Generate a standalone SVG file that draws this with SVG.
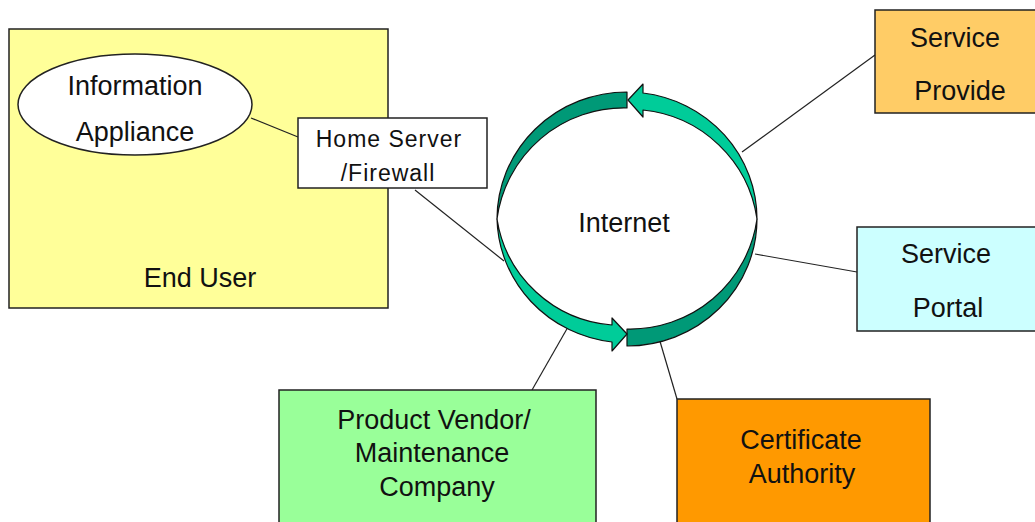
<svg xmlns="http://www.w3.org/2000/svg" width="1035" height="522" viewBox="0 0 1035 522">
<style>
.box{stroke:#222;stroke-width:1.5}
.t{font-family:"Liberation Sans",Arial,sans-serif;font-size:27px;fill:#111;text-anchor:middle}
.ts{font-family:"Liberation Sans",Arial,sans-serif;font-size:23px;fill:#111;text-anchor:middle;letter-spacing:1px}
.ln{stroke:#222;stroke-width:1.2;fill:none}
.lt{fill:#00CC99;stroke:#111;stroke-width:1.2;stroke-linejoin:round}
.dk{fill:#009977;stroke:#111;stroke-width:1.2;stroke-linejoin:round}
</style>
<rect width="1035" height="522" fill="#fff"/>
<g id="end-user">
<rect class="box" x="9" y="29" width="379" height="279" fill="#FFFF99"/>
<text class="t" x="200" y="287">End User</text>
</g>
<g id="connectors">
<line class="ln" x1="251" y1="118" x2="298" y2="137"/>
<line class="ln" x1="415" y1="190" x2="504" y2="261"/>
<line class="ln" x1="742" y1="152" x2="875" y2="55"/>
<line class="ln" x1="755" y1="254" x2="857" y2="272"/>
<line class="ln" x1="532" y1="390" x2="568" y2="327"/>
<line class="ln" x1="677" y1="399" x2="659" y2="338"/>
</g>
<g id="information-appliance">
<ellipse class="box" cx="135" cy="104.5" rx="117" ry="50.5" fill="#fff"/>
<text class="t" x="135" y="95">Information</text>
<text class="t" x="135" y="141">Appliance</text>
</g>
<g id="home-server">
<rect class="box" x="298" y="118" width="189" height="70" fill="#fff"/>
<text class="ts" x="389" y="147">Home Server</text>
<text class="ts" x="388" y="181">/Firewall</text>
</g>
<g id="internet">
<path class="dk" d="M627 92 A130 127 0 0 0 497 219 A128 128 0 0 1 627 108 Z"/>
<path class="dk" d="M627 346 A130 127 0 0 0 757 219 A128 128 0 0 1 627 329 Z"/>
<path class="lt" d="M757 219 A130 127 0 0 0 643 93 L643 84 L628 100 L643 117 L643 110 A128 128 0 0 1 757 219 Z"/>
<path class="lt" d="M497 219 A130 127 0 0 0 612 342 L612 351 L627 334 L612 318 L612 325 A126 126 0 0 1 497 219 Z"/>
<text class="t" x="624" y="232">Internet</text>
</g>
<g id="service-provide">
<rect class="box" x="875" y="10" width="170" height="103" fill="#FFCC66"/>
<text class="t" x="955" y="47">Service</text>
<text class="t" x="960" y="100">Provide</text>
</g>
<g id="service-portal">
<rect class="box" x="857" y="227" width="190" height="104" fill="#CCFFFF"/>
<text class="t" x="946" y="263">Service</text>
<text class="t" x="948" y="317">Portal</text>
</g>
<g id="product-vendor">
<rect class="box" x="279" y="390" width="317" height="140" fill="#99FF99"/>
<text class="t" x="434" y="429">Product Vendor/</text>
<text class="t" x="432" y="462">Maintenance</text>
<text class="t" x="437" y="496">Company</text>
</g>
<g id="certificate-authority">
<rect class="box" x="677" y="399" width="253" height="131" fill="#FF9900"/>
<text class="t" x="801" y="449">Certificate</text>
<text class="t" x="802" y="483">Authority</text>
</g>
</svg>
